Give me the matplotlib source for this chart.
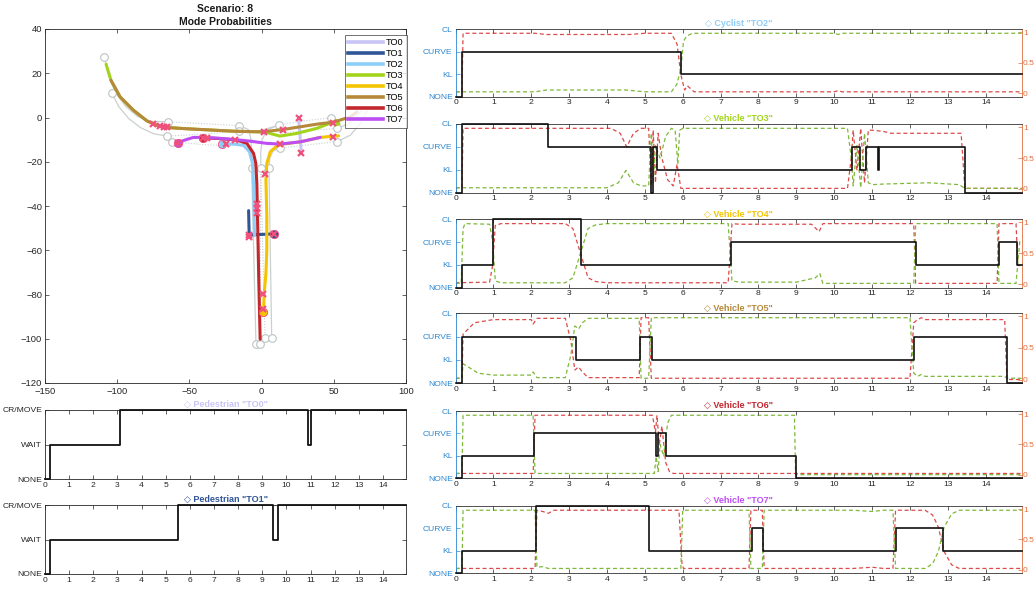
import matplotlib
matplotlib.use("Agg")
import matplotlib.pyplot as plt
from matplotlib.lines import Line2D

plt.rcParams['font.family'] = ['Liberation Sans', 'DejaVu Sans']

# ---------------- object colours ----------------
obj_names = ["TO0", "TO1", "TO2", "TO3", "TO4", "TO5", "TO6", "TO7"]
obj_colors = ["#c8c5f6", "#2f5597", "#8ecdf7", "#a2d41b",
              "#f4c400", "#b5883a", "#c1272d", "#bd4ff2"]

# ---------------- trajectories (x, y in metres) ----------------
traj_x = {
    "TO0": [25.6, 27.5],
    "TO1": [8.3, -8.6, -9.0],
    "TO2": [-27.5, -19.5, -12.5, -8.4, -6.3, -5.6, -5.1, -4.9],
    "TO3": [-107.7, -104.3, -98.0, -88.8, -79.5, -72.6, -65.7, -54.1, -42.6, -19.5,
            0.2, 1.7, 5.8, 12.7, 24.3, 38.2, 47.4, 52.0, 53.6, 51.0],
    "TO4": [1.3, 1.8, 3.0, 3.6, 3.6, 3.0, 3.6, 6.0, 10.6, 15.2, 26.8, 40.6, 47.0, 53.3],
    "TO5": [-104.3, -98.0, -88.8, -79.5, -72.6, -65.7, -54.1, -42.6, -19.5, 0.2,
            15.2, 26.8, 38.3, 49.9, 61.4, 66.0],
    "TO6": [-40.7, -30.0, -17.1, -10.2, -5.6, -4.0, -3.3, -2.6, -1.9, -1.0],
    "TO7": [-58.0, -51.8, -47.2, -40.3, -31.0, -19.5, -7.9, 3.6, 12.9, 26.8, 40.6],
}
traj_y = {
    "TO0": [0.0, -16.0],
    "TO1": [-52.6, -53.1, -42.1],
    "TO2": [-12.0, -12.0, -12.6, -15.5, -20.8, -29.8, -43.3, -53.1],
    "TO3": [24.1, 16.8, 9.3, 3.3, -1.5, -3.5, -4.5, -5.0, -5.4, -6.2,
            -6.5, -6.4, -7.2, -8.4, -7.2, -4.9, -2.6, -1.4, -2.9, -3.4],
    "TO4": [-88.1, -79.4, -70.4, -59.8, -44.8, -28.3, -20.8, -15.5, -12.8, -12.0,
            -11.0, -9.0, -8.6, -8.3],
    "TO5": [16.8, 9.3, 3.3, -1.5, -3.5, -4.5, -5.0, -5.4, -6.2, -6.5,
            -5.4, -4.2, -3.0, -2.1, 0.3, 2.5],
    "TO6": [-9.2, -9.5, -10.2, -11.7, -16.2, -20.8, -29.8, -52.3, -74.9, -100.2],
    "TO7": [-11.3, -9.9, -9.0, -9.0, -9.3, -9.9, -10.7, -11.7, -12.0, -11.0, -9.0],
}

# start positions (filled dots)
start_objs = ["TO2", "TO7", "TO6", "TO1", "TO4"]
start_x = [-27.5, -58.0, -40.7, 8.3, 1.3]
start_y = [-12.0, -11.3, -9.2, -52.6, -88.1]

# mode-switch events (crosses)
switch_x = [-74.9, -70.3, -67.5, -65.7, -58.0, -40.3, -37.5, -24.8, -18.3, -3.3, -3.3,
            -3.3, -8.6, -8.6, 8.3, 2.5, 1.3, 1.3, 1.8, 14.5, 12.9, 25.6, 27.5, 49.2, 49.2]
switch_y = [-3.0, -3.9, -4.2, -4.5, -11.3, -9.2, -9.3, -12.0, -10.2, -39.1, -41.0,
            -43.0, -53.1, -53.8, -52.6, -25.6, -79.8, -86.5, -6.5, -5.7, -12.0, 0.0,
            -16.0, -2.7, -8.7]

# ---------------- road network ----------------
lane_solid = [
    ([-108.9, -106, -101, -94, -86, -77, -65.0], [27.5, 19, 11, 5, 0.5, -1.8, -1.9]),
    ([-103.8, -99, -92, -84, -75, -65.7], [11.2, 5, -0.5, -4.5, -7.3, -8.4]),
    ([-15.4, -9.0, -7.3, -6.9, -6.9], [-3.7, -5.5, -10, -16, -23.0]),
    ([12.0, 4.0, 0.3, -0.6, -0.6], [-3.4, -5.5, -10, -16, -23.0]),
    ([12.7, 8.0, 5.6, 5.1], [-13.9, -15.0, -18.5, -22.7]),
    ([-15.4, -2.0, 12.0], [-6.0, -6.2, -3.4]),
    ([-6.9, -3.9], [-23.0, -102.4]),
    ([5.1, 7.0], [-22.7, -99.8]),
    ([52.0, 60.0, 66.0, 70.0], [-4.9, -3.0, 0.5, 4.0]),
    ([52.4, 61.4, 68.4, 73.0], [-10.9, -8.0, -2.7, 3.0]),
]
lane_dotted = [
    ([-65.0, -40.0, -15.4], [-1.9, -2.8, -3.7]),
    ([-65.7, -40.0, -15.4], [-8.4, -7.5, -6.0]),
    ([-62.3, -40.0, -20.0], [-10.9, -12.3, -12.8]),
    ([12.0, 30.0, 48.1], [-3.4, -1.5, -0.1]),
    ([12.7, 30.0, 52.4], [-13.9, -12.5, -10.9]),
    ([14.0, 35.0, 52.0], [-7.0, -5.8, -4.9]),
    ([-0.6, -1.1], [-23.0, -102.4]),
    ([-0.6, 2.4], [-23.0, -99.8]),
]
lane_end_x = [-108.9, -103.8, -65.0, -65.7, -62.3, -15.4, -15.4, 12.0, 12.7, 48.1,
              52.0, 52.4, -6.9, -0.6, 5.1, -3.9, -1.1, 2.4, 7.0]
lane_end_y = [27.5, 11.2, -1.9, -8.4, -10.9, -3.7, -6.0, -3.4, -13.9, -0.1,
              -4.9, -10.9, -23.0, -23.0, -22.7, -102.4, -102.4, -99.8, -99.8]

# ---------------- mode time series ----------------
t_end = 14.95

ped_titles = ['◇ Pedestrian "TO0"', '◇ Pedestrian "TO1"']
ped_levels = ["NONE", "WAIT", "CR/MOVE"]
to0_t = [0, 0.2, 3.1, 10.9, 11.0, t_end]
to0_mode = [0, 1, 2, 1, 2, 2]
to1_t = [0, 0.2, 5.52, 9.45, 9.65, t_end]
to1_mode = [0, 1, 2, 1, 2, 2]

veh_levels = ["NONE", "KL", "CURVE", "CL"]
veh_titles = ['◇ Cyclist "TO2"', '◇ Vehicle "TO3"', '◇ Vehicle "TO4"',
              '◇ Vehicle "TO5"', '◇ Vehicle "TO6"', '◇ Vehicle "TO7"']

to2_t = [0, 0.18, 5.95, t_end]
to2_mode = [0, 2, 1, 1]
to2_red_t = [0, 0.17, 0.2, 2.1, 2.4, 4.6, 5.0, 5.7, 5.85, 5.95, 6.05, 6.12, 6.3, 10.0, 10.1, 10.2, t_end]
to2_red = [0.02, 0.02, 0.98, 0.98, 0.96, 0.96, 0.98, 0.98, 0.8, 0.3, 0.05, 0.12, 0.02, 0.02, 0.04, 0.02, 0.02]
to2_grn_t = [0, 2.1, 2.4, 4.5, 5.0, 5.7, 5.85, 5.95, 6.02, 6.1, 6.25, 10.0, 10.1, 10.2, t_end]
to2_grn = [0.02, 0.02, 0.05, 0.05, 0.02, 0.02, 0.15, 0.4, 0.85, 0.93, 0.98, 0.98, 0.96, 0.98, 0.98]

to3_t = [0, 0.18, 2.43, 5.17, 5.21, 5.33, 10.46, 10.68, 10.83, 11.15, 11.18, 13.45, t_end]
to3_mode = [0, 3, 2, 0, 2, 1, 2, 1, 2, 1, 2, 0, 0]
to3_red_t = [0, 0.17, 0.2, 4.1, 4.35, 4.52, 4.7, 4.9, 5.1, 5.17, 5.22, 5.28, 5.35, 5.45,
             5.6, 5.75, 5.85, 5.95, 10.35, 10.45, 10.5, 10.6, 10.7, 10.8, 10.9, 11.0,
             11.3, 11.5, 13.35, 13.45, t_end]
to3_red = [0.02, 0.02, 0.98, 0.98, 0.9, 0.68, 0.9, 0.98, 0.98, 0.05, 0.95, 0.1, 0.9, 0.5,
           0.15, 0.05, 0.4, 0.01, 0.01, 0.5, 0.95, 0.3, 0.98, 0.1, 0.95, 0.95,
           0.93, 0.9, 0.9, 0.01, 0.01]
to3_grn_t = [0, 4.0, 4.3, 4.5, 4.7, 4.9, 5.1, 5.17, 5.22, 5.28, 5.4, 5.55, 5.7, 5.8, 5.87,
             5.92, 6.0, 10.35, 10.45, 10.5, 10.6, 10.7, 10.8, 10.9, 11.0, 11.3, 12.5,
             13.3, 13.45, t_end]
to3_grn = [0.02, 0.02, 0.1, 0.3, 0.1, 0.05, 0.05, 0.9, 0.1, 0.7, 0.5, 0.85, 0.98, 0.95, 0.4,
           0.95, 0.98, 0.98, 0.5, 0.05, 0.7, 0.02, 0.9, 0.1, 0.07, 0.08, 0.1,
           0.07, 0.01, 0.01]

to4_t = [0, 0.18, 1.0, 3.32, 7.27, 12.17, 14.35, 14.83, t_end]
to4_mode = [0, 1, 3, 1, 2, 1, 2, 1, 1]
to4_red_t = [0, 0.9, 0.98, 1.05, 1.2, 2.9, 3.1, 3.3, 3.5, 3.7, 4.0, 7.2, 7.3, 7.5, 9.4,
             9.6, 9.7, 9.9, 12.1, 12.15, 14.3, 14.35, 14.8, 14.85, t_end]
to4_red = [0.02, 0.03, 0.3, 0.95, 0.98, 0.98, 0.9, 0.5, 0.1, 0.04, 0.02, 0.02, 0.98, 0.97,
           0.97, 0.85, 0.98, 0.98, 0.98, 0.01, 0.01, 0.98, 0.98, 0.3, 0.3]
to4_grn_t = [0, 0.15, 0.2, 0.25, 0.9, 0.98, 1.05, 1.2, 2.9, 3.1, 3.3, 3.5, 3.7, 4.0, 7.2,
             7.3, 7.5, 9.0, 9.5, 9.62, 9.7, 12.1, 12.15, 14.3, 14.35, 14.8, 14.9, t_end]
to4_grn = [0.01, 0.01, 0.9, 0.98, 0.97, 0.7, 0.05, 0.02, 0.02, 0.1, 0.5, 0.9, 0.96, 0.98,
           0.98, 0.05, 0.03, 0.03, 0.1, 0.17, 0.01, 0.01, 0.98, 0.98, 0.01, 0.01, 0.7, 0.7]

to5_t = [0, 0.18, 3.17, 4.88, 5.19, 12.1, 14.56, t_end]
to5_mode = [0, 2, 1, 2, 1, 2, 0, 0]
to5_red_t = [0, 0.17, 0.2, 0.5, 1.0, 2.0, 2.05, 2.15, 2.9, 3.05, 3.15, 3.25, 3.35, 3.5,
             4.85, 4.9, 5.1, 5.17, 12.0, 12.1, 12.2, 12.3, 12.4, 14.5, 14.56, t_end]
to5_red = [0.02, 0.02, 0.72, 0.9, 0.95, 0.95, 0.88, 0.97, 0.97, 0.6, 0.15, 0.2, 0.12, 0.03,
           0.03, 0.98, 0.98, 0.02, 0.02, 0.9, 0.95, 0.98, 0.95, 0.95, 0.0, 0.0]
to5_grn_t = [0, 0.17, 0.2, 0.6, 1.0, 2.0, 2.05, 2.15, 2.9, 3.05, 3.15, 3.25, 3.35, 3.5,
             4.85, 4.9, 5.1, 5.17, 12.0, 12.1, 12.2, 12.3, 12.4, 14.5, 14.56, t_end]
to5_grn = [0.02, 0.02, 0.25, 0.1, 0.07, 0.07, 0.12, 0.03, 0.03, 0.4, 0.85, 0.8, 0.9, 0.97,
           0.97, 0.02, 0.02, 0.98, 0.98, 0.1, 0.05, 0.08, 0.05, 0.05, 0.02, 0.02]

to6_t = [0, 0.18, 2.08, 5.3, 5.35, 5.57, 8.98, t_end]
to6_mode = [0, 1, 2, 1, 2, 1, 0, 0]
to6_red_t = [0, 2.05, 2.1, 5.2, 5.28, 5.32, 5.38, 5.45, 5.55, 5.65, 5.75, t_end]
to6_red = [0.02, 0.02, 0.98, 0.98, 0.7, 0.98, 0.5, 0.8, 0.2, 0.05, 0.02, 0.02]
to6_grn_t = [0, 0.17, 0.2, 2.05, 2.1, 5.25, 5.3, 5.35, 5.4, 5.5, 5.6, 5.7, 8.95, 8.98, t_end]
to6_grn = [0.02, 0.02, 0.98, 0.98, 0.02, 0.02, 0.3, 0.05, 0.5, 0.3, 0.85, 0.98, 0.98, 0.0, 0.0]

to7_t = [0, 0.18, 2.13, 5.12, 7.84, 8.13, 11.63, 12.88, t_end]
to7_mode = [0, 1, 3, 1, 2, 1, 2, 1, 1]
to7_red_t = [0, 2.1, 2.15, 2.3, 2.45, 2.6, 5.9, 5.98, 6.02, 7.75, 7.8, 8.1, 8.15, 10.5,
             11.0, 11.3, 11.55, 11.62, 12.4, 12.6, 12.75, 12.9, 13.1, 13.3, t_end]
to7_red = [0.02, 0.02, 0.98, 0.96, 0.93, 0.98, 0.98, 0.1, 0.02, 0.02, 0.98, 0.98, 0.02, 0.02,
           0.04, 0.02, 0.02, 0.98, 0.98, 0.9, 0.7, 0.3, 0.08, 0.02, 0.02]
to7_grn_t = [0, 0.17, 0.2, 2.1, 2.15, 2.3, 2.45, 2.6, 5.95, 6.0, 7.75, 7.8, 8.1, 8.15, 10.5,
             11.0, 11.3, 11.55, 11.62, 12.4, 12.6, 12.75, 12.9, 13.1, 13.3, t_end]
to7_grn = [0.02, 0.02, 0.98, 0.98, 0.04, 0.05, 0.02, 0.02, 0.02, 0.98, 0.98, 0.02, 0.02, 0.98,
           0.98, 0.96, 0.98, 0.98, 0.02, 0.02, 0.1, 0.3, 0.7, 0.92, 0.98, 0.98]

veh_series = [
    (to2_t, to2_mode, to2_red_t, to2_red, to2_grn_t, to2_grn, "TO2"),
    (to3_t, to3_mode, to3_red_t, to3_red, to3_grn_t, to3_grn, "TO3"),
    (to4_t, to4_mode, to4_red_t, to4_red, to4_grn_t, to4_grn, "TO4"),
    (to5_t, to5_mode, to5_red_t, to5_red, to5_grn_t, to5_grn, "TO5"),
    (to6_t, to6_mode, to6_red_t, to6_red, to6_grn_t, to6_grn, "TO6"),
    (to7_t, to7_mode, to7_red_t, to7_red, to7_grn_t, to7_grn, "TO7"),
]

# ---------------- styling ----------------
W, H = 1034, 591
TICK_C = "#262626"
AX_C = "#262626"
LEFT_C = "#2b87d1"
RIGHT_C = "#e0703f"
RED_C = "#dc4a4a"
GRN_C = "#7fb83a"
PINK = "#f0507c"
LANE_C = "#c9d0d0"
FS = 6.1


def rect(l, t, r, b):
    return [l / W, 1 - b / H, (r - l) / W, (b - t) / H]


def style_box(ax, color=AX_C, size=FS):
    for s in ax.spines.values():
        s.set_color(color)
        s.set_linewidth(0.6)
    ax.tick_params(direction="in", length=3, width=0.5, colors=TICK_C,
                   labelsize=size, top=True, right=True, pad=2)


fig = plt.figure(figsize=(W / 100, H / 100), dpi=100)

# ---------------- trajectory map ----------------
ax = fig.add_axes(rect(45, 29, 406, 383))
for xs, ys in lane_solid:
    ax.plot(xs, ys, color=LANE_C, lw=0.9, zorder=1)
for xs, ys in lane_dotted:
    ax.plot(xs, ys, color=LANE_C, lw=0.8, ls=(0, (1, 1.5)), zorder=1)
ax.plot(lane_end_x, lane_end_y, ls="none", marker="o", ms=5.5, mfc="white",
        mec="#bcc4c4", mew=0.8, zorder=2)

for name, col in zip(obj_names, obj_colors):
    ax.plot(traj_x[name], traj_y[name], color=col, lw=2.2, solid_capstyle="round",
            zorder=3, label=name)
for name, sx, sy in zip(start_objs, start_x, start_y):
    ax.plot(sx, sy, marker="o", ms=6, color=obj_colors[obj_names.index(name)],
            mec=PINK, mew=0.6, zorder=4)
ax.plot(switch_x, switch_y, ls="none", marker="x", ms=4.5, mew=1.6, color=PINK, zorder=5)

ax.set_xlim(-150, 100)
ax.set_ylim(-120, 40)
ax.set_xticks(range(-150, 101, 50))
ax.set_yticks(range(-120, 41, 20))
style_box(ax, size=6.8)
ax.tick_params(axis="x", pad=3)
ax.set_title("Scenario: 8\nMode Probabilities", fontsize=7.5, fontweight="bold",
             color="#1a1a1a", pad=3, linespacing=1.3)
handles = [Line2D([0], [0], color=c, lw=2.6) for c in obj_colors]
leg = ax.legend(handles, obj_names, loc="upper right", fontsize=6.6, frameon=True,
                fancybox=False, edgecolor="#333333", handlelength=3.8,
                borderaxespad=0.0, labelspacing=0.22, handletextpad=0.4,
                borderpad=0.35, bbox_to_anchor=(1.003, 0.983))
leg.get_frame().set_linewidth(0.6)

# ---------------- pedestrians ----------------
ped_boxes = [(410, 479), (505, 574)]
for (top, bot), title, tt, mm, nm in zip(ped_boxes, ped_titles, [to0_t, to1_t],
                                        [to0_mode, to1_mode], ["TO0", "TO1"]):
    a = fig.add_axes(rect(45, top, 406, bot))
    a.step(tt, mm, where="post", color="#111111", lw=1.3, clip_on=False, zorder=3)
    a.set_xlim(0, t_end)
    a.set_ylim(0, 2)
    a.set_xticks(range(0, 15))
    a.set_yticks([0, 1, 2])
    a.set_yticklabels(ped_levels)
    style_box(a)
    a.set_title(title, fontsize=6.5, fontweight="bold",
                color=obj_colors[obj_names.index(nm)], pad=2,
                family=["Liberation Sans", "DejaVu Sans"])

# ---------------- vehicles / cyclist ----------------
veh_boxes = [(29, 96.7), (124, 192.7), (219.3, 287.7), (313.3, 383.3),
             (411, 478.3), (506, 573.3)]
for (top, bot), title, ser in zip(veh_boxes, veh_titles, veh_series):
    tt, mm, rt, rp, gt, gp, nm = ser
    a = fig.add_axes(rect(455.5, top, 1021.7, bot))
    a2 = a.twinx()
    a.step(tt, mm, where="post", color="#111111", lw=1.2, clip_on=False, zorder=3)
    a2.plot(rt, rp, color=RED_C, lw=0.9, ls=(0, (3.2, 2.2)), zorder=2)
    a2.plot(gt, gp, color=GRN_C, lw=0.9, ls=(0, (3.2, 2.2)), zorder=2)
    a.set_xlim(0, t_end)
    a.set_ylim(0, 3)
    a2.set_ylim(-0.06, 1.05)
    a.set_xticks(range(0, 15))
    a.set_yticks([0, 1, 2, 3])
    a.set_yticklabels(veh_levels)
    a2.set_yticks([0, 0.5, 1])
    a2.set_yticklabels(["0", "0.5", "1"])
    for s in a.spines.values():
        s.set_color("#333333")
        s.set_linewidth(0.6)
    a.spines["left"].set_color(LEFT_C)
    a.spines["right"].set_visible(False)
    for s in a2.spines.values():
        s.set_visible(False)
    a2.spines["right"].set_visible(True)
    a2.spines["right"].set_color(RIGHT_C)
    a2.spines["right"].set_linewidth(0.6)
    a.tick_params(axis="x", direction="in", length=3, width=0.5, colors=TICK_C,
                  labelsize=FS, top=True, pad=2)
    a.tick_params(axis="y", direction="in", length=3, width=0.5, colors=LEFT_C,
                  labelsize=FS, right=False, pad=2)
    a2.tick_params(axis="y", direction="in", length=3, width=0.5, colors=RIGHT_C,
                   labelsize=FS, pad=1.0)
    a2.set_zorder(a.get_zorder() - 1)
    a.patch.set_visible(False)
    a.set_title(title, fontsize=6.5, fontweight="bold",
                color=obj_colors[obj_names.index(nm)], pad=2,
                family=["Liberation Sans", "DejaVu Sans"])

fig.savefig("out.png", dpi=100)
